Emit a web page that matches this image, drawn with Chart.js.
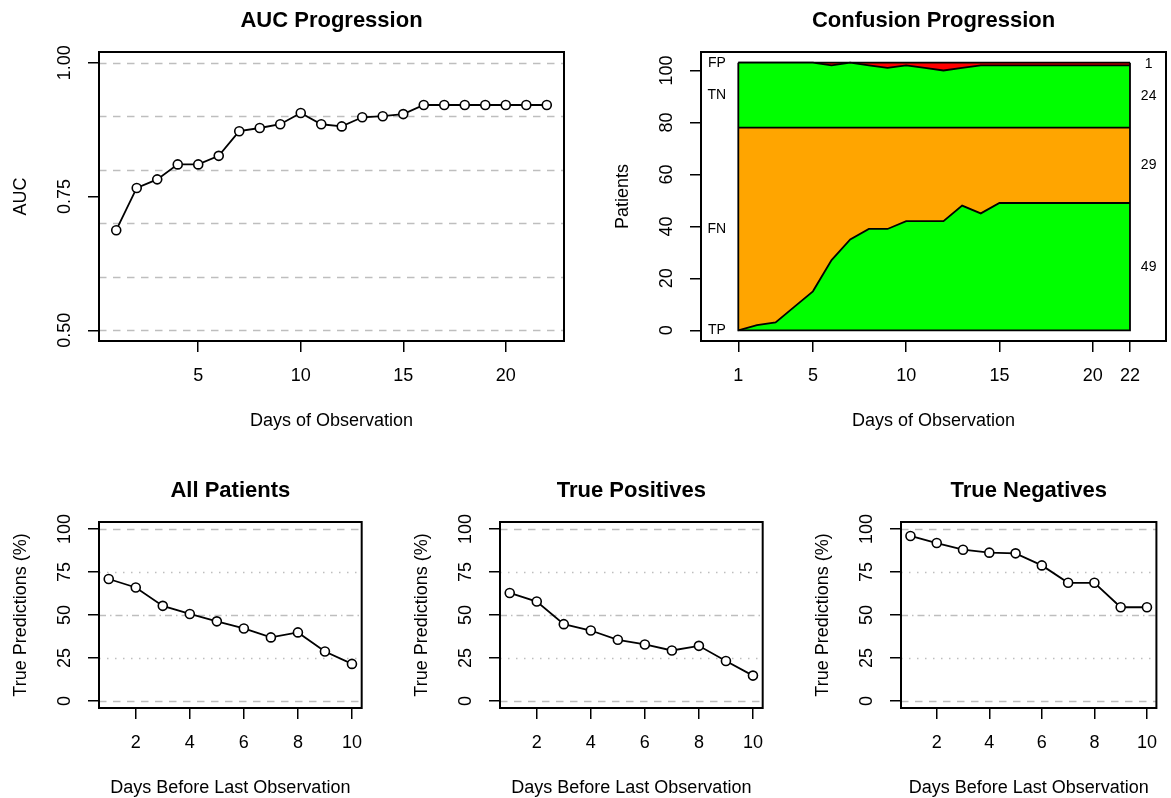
<!DOCTYPE html>
<html>
<head>
<meta charset="utf-8">
<script src="https://cdn.jsdelivr.net/npm/chart.js@4.4.1/dist/chart.umd.min.js"></script>
<style>
  html, body { margin: 0; padding: 0; background: #fff; }
  body { width: 1171px; height: 798px; position: relative; overflow: hidden; }
  canvas { position: absolute; }
</style>
</head>
<body>
<canvas id="auc"></canvas>
<canvas id="conf"></canvas>
<canvas id="allPat"></canvas>
<canvas id="truePos"></canvas>
<canvas id="trueNeg"></canvas>
<script>
// ---- AUC by day of observation ----
const aucDays = [1, 2, 3, 4, 5, 6, 7, 8, 9, 10, 11, 12, 13, 14, 15, 16, 17, 18, 19, 20, 21, 22];
const aucValues = [0.687, 0.766, 0.782, 0.810, 0.810, 0.826, 0.872, 0.878, 0.885, 0.906, 0.885,
                   0.881, 0.898, 0.900, 0.904, 0.921, 0.921, 0.921, 0.921, 0.921, 0.921, 0.921];
const aucTicksX = [5, 10, 15, 20];
const aucTicksY = [0.5, 0.75, 1.0];
const aucGridY = [0.5, 0.6, 0.7, 0.8, 0.9, 1.0];

// ---- confusion counts per day of observation ----
const confDays = [1, 2, 3, 4, 5, 6, 7, 8, 9, 10, 11, 12, 13, 14, 15, 16, 17, 18, 19, 20, 21, 22];
const truePos  = [0, 2, 3, 9, 15, 27, 35, 39, 39, 42, 42, 42, 48, 45, 49, 49, 49, 49, 49, 49, 49, 49];
const falseNeg = [78, 76, 75, 69, 63, 51, 43, 39, 39, 36, 36, 36, 30, 33, 29, 29, 29, 29, 29, 29, 29, 29];
const trueNeg  = [25, 25, 25, 25, 25, 24, 25, 24, 23, 24, 23, 22, 23, 24, 24, 24, 24, 24, 24, 24, 24, 24];
const falsePos = [0, 0, 0, 0, 0, 1, 0, 1, 2, 1, 2, 3, 2, 1, 1, 1, 1, 1, 1, 1, 1, 1];
const confNames = ['TP', 'FN', 'TN', 'FP'];
const confTicksX = [1, 5, 10, 15, 20, 22];
const confTicksY = [0, 20, 40, 60, 80, 100];

// ---- share of true predictions by days before the last observation ----
const daysBefore = [1, 2, 3, 4, 5, 6, 7, 8, 9, 10];
const allPatientsPct   = [70.9, 66.0, 55.3, 50.6, 46.3, 42.2, 37.0, 39.9, 28.8, 21.6];
const truePositivesPct = [62.8, 57.8, 44.7, 41.0, 35.6, 32.9, 29.4, 32.1, 23.3, 14.8];
const trueNegativesPct = [95.9, 91.8, 87.9, 86.2, 85.8, 78.8, 68.7, 68.7, 54.5, 54.5];
const pctTicksX = [2, 4, 6, 8, 10];
const pctTicksY = [0, 25, 50, 75, 100];
const pctGridY = [0, 25, 50, 75, 100];

// ---------------------------------------------------------------
Chart.defaults.font.family = '"Liberation Sans", Arial, Helvetica, sans-serif';
Chart.defaults.color = '#000';
Chart.defaults.animation = false;

const Y_AXIS_W = 95;   // room left of the plot box
const X_AXIS_H = 90;   // room below the plot box
const TITLE_H = 50;    // room above the plot box

const GRAY = '#bebebe';
const DASHED = [7.5, 6.5];
const DOTTED = [1.5, 6.5];
const DASHDOT = [7, 4, 1.5, 4];

// box outline around the plotting region
const framePlugin = {
  id: 'frame',
  afterDraw(chart) {
    const { ctx, chartArea: a } = chart;
    ctx.save();
    ctx.strokeStyle = '#000';
    ctx.lineWidth = 2;
    ctx.setLineDash([]);
    ctx.strokeRect(a.left, a.top, a.right - a.left, a.bottom - a.top);
    ctx.restore();
  }
};

// horizontal reference lines behind the series
const refLinesPlugin = {
  id: 'refLines',
  beforeDatasetsDraw(chart, args, opts) {
    const lines = opts.lines || [];
    const { ctx, chartArea: a } = chart;
    const y = chart.scales.y;
    ctx.save();
    ctx.strokeStyle = GRAY;
    ctx.lineWidth = 1.5;
    lines.forEach(l => {
      const py = Math.round(y.getPixelForValue(l.value)) + 0.5;
      ctx.setLineDash(l.dash);
      ctx.beginPath();
      ctx.moveTo(a.left, py);
      ctx.lineTo(a.right, py);
      ctx.stroke();
    });
    ctx.restore();
  }
};

function xAxis(min, max, ticks, title) {
  return {
    type: 'linear', position: 'bottom', min, max,
    afterBuildTicks: s => { s.ticks = ticks.map(v => ({ value: v })); },
    afterFit: s => { s.height = X_AXIS_H; },
    grid: { drawOnChartArea: false, drawTicks: true, tickLength: 11, color: '#000', lineWidth: 1.5 },
    border: { display: false },
    ticks: { padding: 13.5, font: { size: 18 }, color: '#000', minRotation: 0, maxRotation: 0,
             autoSkip: false, callback: v => String(v) },
    title: { display: true, text: title, font: { size: 18, lineHeight: 1 }, color: '#000',
             padding: { top: 0, bottom: 1 } }
  };
}

function yAxis(min, max, ticks, title, fmt, labelPad, stacked) {
  return {
    type: 'linear', position: 'left', min, max, stacked: !!stacked,
    afterBuildTicks: s => { s.ticks = ticks.map(v => ({ value: v })); },
    afterFit: s => { s.width = Y_AXIS_W; },
    grid: { drawOnChartArea: false, drawTicks: true, tickLength: 11, color: '#000', lineWidth: 1.5 },
    border: { display: false },
    ticks: { padding: labelPad, font: { size: 18 }, color: '#000', minRotation: 90, maxRotation: 90,
             crossAlign: 'center', autoSkip: false, callback: fmt },
    title: { display: true, text: title, font: { size: 18, lineHeight: 1 }, color: '#000',
             padding: { top: 8, bottom: 0 } }
  };
}

function titleOpts(text) {
  return { display: true, text, fullSize: false, color: '#000',
           font: { size: 22, weight: 'bold', lineHeight: 1.2 },
           padding: { top: 5.8, bottom: 17.8 } };
}

function placeCanvas(id, box, rightPad) {
  const c = document.getElementById(id);
  const left = box.left - Y_AXIS_W;
  const top = box.top - TITLE_H;
  const w = box.right + rightPad - left;
  const h = box.bottom + X_AXIS_H - top;
  c.width = w; c.height = h;
  c.style.left = left + 'px';
  c.style.top = top + 'px';
  c.style.width = w + 'px';
  c.style.height = h + 'px';
  return c;
}

function seriesDataset(values) {
  return {
    data: values,
    borderColor: '#000', borderWidth: 1.8, tension: 0,
    pointStyle: 'circle', pointRadius: 4.5, pointBorderWidth: 1.6,
    pointBorderColor: '#000', pointBackgroundColor: '#fff', fill: false
  };
}

// ---- AUC progression ----
(function () {
  const box = { left: 99, top: 52, right: 564, bottom: 341 };
  const rp = 12;
  const c = placeCanvas('auc', box, rp);
  new Chart(c, {
    type: 'line',
    data: { labels: aucDays, datasets: [seriesDataset(aucValues)] },
    options: {
      responsive: false, events: [],
      layout: { padding: { left: 0, top: 0, right: rp, bottom: 0 } },
      plugins: {
        legend: { display: false }, tooltip: { enabled: false },
        title: titleOpts('AUC Progression'),
        refLines: { lines: aucGridY.map(v => ({ value: v, dash: DASHED })) }
      },
      scales: {
        x: xAxis(0.16, 22.84, aucTicksX, 'Days of Observation'),
        y: yAxis(0.48, 1.02, aucTicksY, 'AUC', v => Number(v).toFixed(2), 5.2)
      }
    },
    plugins: [refLinesPlugin, framePlugin]
  });
})();

// ---- confusion progression (stacked counts) ----
(function () {
  const box = { left: 701, top: 52, right: 1166, bottom: 341 };
  const rp = 5;
  const c = placeCanvas('conf', box, rp);
  const layers = [truePos, falseNeg, trueNeg, falsePos];
  const fills = ['#00ff00', '#ffa500', '#00ff00', '#ff0000'];

  // outline of the stacked polygon plus band labels on both sides
  const bandPlugin = {
    id: 'bands',
    afterDatasetsDraw(chart) {
      const { ctx } = chart;
      const xs = chart.scales.x, ys = chart.scales.y;
      const first = 0, last = confDays.length - 1;
      const total = i => layers.reduce((s, l) => s + l[i], 0);
      ctx.save();
      ctx.strokeStyle = '#000';
      ctx.lineWidth = 1.8;
      ctx.beginPath();
      ctx.moveTo(xs.getPixelForValue(confDays[first]), ys.getPixelForValue(total(first)));
      ctx.lineTo(xs.getPixelForValue(confDays[first]), ys.getPixelForValue(0));
      ctx.lineTo(xs.getPixelForValue(confDays[last]), ys.getPixelForValue(0));
      ctx.lineTo(xs.getPixelForValue(confDays[last]), ys.getPixelForValue(total(last)));
      ctx.stroke();

      ctx.fillStyle = '#000';
      ctx.font = '14px "Liberation Sans", Arial, sans-serif';
      ctx.textAlign = 'center';
      ctx.textBaseline = 'middle';
      const mid = (i, k) => {
        let lo = 0;
        for (let j = 0; j < k; j++) lo += layers[j][i];
        return lo + layers[k][i] / 2;
      };
      layers.forEach((l, k) => {
        ctx.fillText(confNames[k], xs.getPixelForValue(-0.15), ys.getPixelForValue(mid(first, k)));
        ctx.fillText(String(l[last]), xs.getPixelForValue(23), ys.getPixelForValue(mid(last, k)));
      });
      ctx.restore();
    }
  };

  new Chart(c, {
    type: 'line',
    data: {
      labels: confDays,
      datasets: layers.map((l, k) => ({
        data: l, fill: k === 0 ? 'origin' : '-1', backgroundColor: fills[k],
        borderColor: '#000', borderWidth: 1.8, pointRadius: 0, tension: 0
      }))
    },
    options: {
      responsive: false, events: [],
      layout: { padding: { left: 0, top: 0, right: rp, bottom: 0 } },
      plugins: {
        legend: { display: false }, tooltip: { enabled: false },
        title: titleOpts('Confusion Progression'),
        filler: { propagate: false }
      },
      scales: {
        x: xAxis(-1, 23.93, confTicksX, 'Days of Observation'),
        y: yAxis(-4.12, 107.12, confTicksY, 'Patients', v => String(v), 7.7, true)
      }
    },
    plugins: [bandPlugin, framePlugin]
  });
})();

// ---- true prediction shares ----
function pctStyle(v) {
  if (v === 0 || v === 100) return DASHED;
  if (v === 50) return DASHDOT;
  return DOTTED;
}

function pctChart(id, title, values, boxLeft, rp) {
  const box = { left: boxLeft, top: 522, right: boxLeft + 265, bottom: 708 };
  const c = placeCanvas(id, box, rp);
  new Chart(c, {
    type: 'line',
    data: { labels: daysBefore, datasets: [seriesDataset(values)] },
    options: {
      responsive: false, events: [],
      layout: { padding: { left: 0, top: 0, right: rp, bottom: 0 } },
      plugins: {
        legend: { display: false }, tooltip: { enabled: false },
        title: titleOpts(title),
        refLines: { lines: pctGridY.map(v => ({ value: v, dash: pctStyle(v) })) }
      },
      scales: {
        x: xAxis(0.64, 10.36, pctTicksX, 'Days Before Last Observation'),
        y: yAxis(-4, 104, pctTicksY, 'True Predictions (%)', v => String(v), 7.7)
      }
    },
    plugins: [refLinesPlugin, framePlugin]
  });
}

pctChart('allPat', 'All Patients', allPatientsPct, 99, 12);
pctChart('truePos', 'True Positives', truePositivesPct, 500, 12);
pctChart('trueNeg', 'True Negatives', trueNegativesPct, 901, 5);
</script>
</body>
</html>
